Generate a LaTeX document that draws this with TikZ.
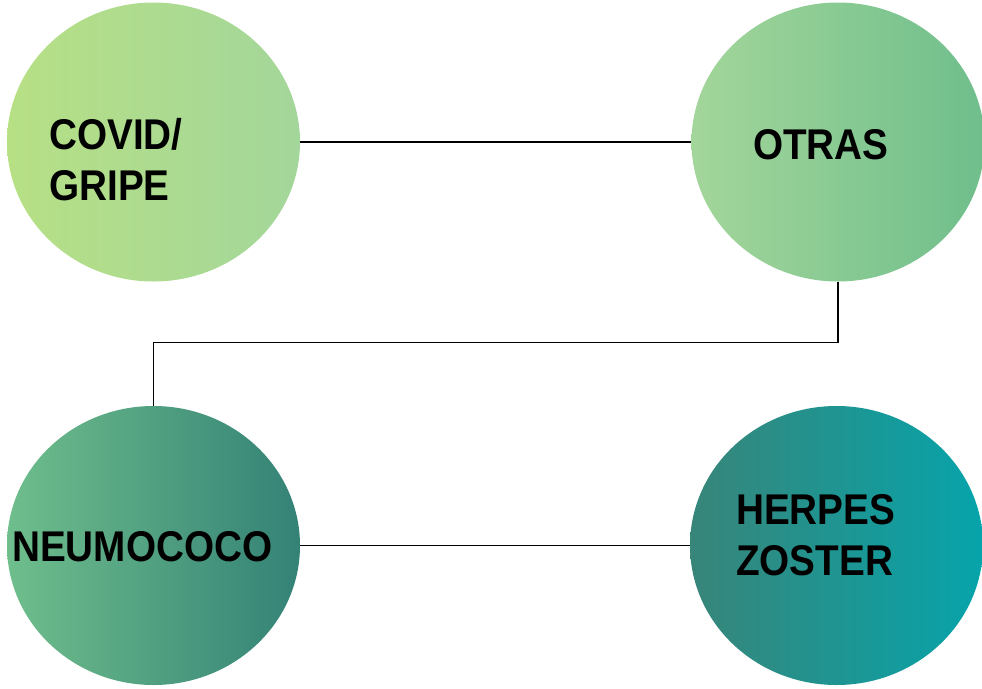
\documentclass[tikz,border=0pt]{standalone}
\usepackage{fontspec}
\setmainfont{Liberation Sans}[FakeStretch=0.9]
\usetikzlibrary{shapes.geometric, positioning, calc}
\definecolor{lime}{HTML}{B7E085}
\definecolor{pale}{HTML}{A3D69A}
\definecolor{mint}{HTML}{6FBE8C}
\definecolor{pine}{HTML}{338276}
\definecolor{teal1}{HTML}{388579}
\definecolor{teal2}{HTML}{06A4AB}

\begin{document}
\begin{tikzpicture}[x=1pt, y=-1pt,
    blob/.style={ellipse, draw=none, inner sep=0pt, minimum width=293pt, minimum height=279pt},
    lbl/.style={font=\fontsize{43}{51}\selectfont\bfseries, align=left, inner sep=0pt, anchor=base west},
    link/.style={line width=1.1pt, black}]
        \useasboundingbox (0, 0) rectangle (982, 688);

        \node[blob, left color=lime, right color=pale] (covid) at (153.5, 142) {};
        \node[blob, left color=pale, right color=mint] (otras) at (838, 142) {};
        \node[blob, left color=mint, right color=pine] (neumo) at (153.5, 545.5) {};
        \node[blob, left color=teal1, right color=teal2] (herpes) at (836.5, 545.5) {};

        % base anchor sits on the last line
        \node[lbl] (covidtxt) at (49, 200) {COVID/\\GRIPE};
        \node[lbl] (otrastxt) at (753, 159) {OTRAS};
        \node[lbl] (neumotxt) at (12, 561) {NEUMOCOCO};
        \node[lbl] (herpestxt) at (736, 575) {HERPES\\ZOSTER};

        \draw[link] (covid.east) -- (otras.west);
        \draw[link] (otras.south) -- ++(0, 61) -| (neumo.north);
        \draw[link] (neumo.east) -- (herpes.west);
      \end{tikzpicture}
\end{document}
